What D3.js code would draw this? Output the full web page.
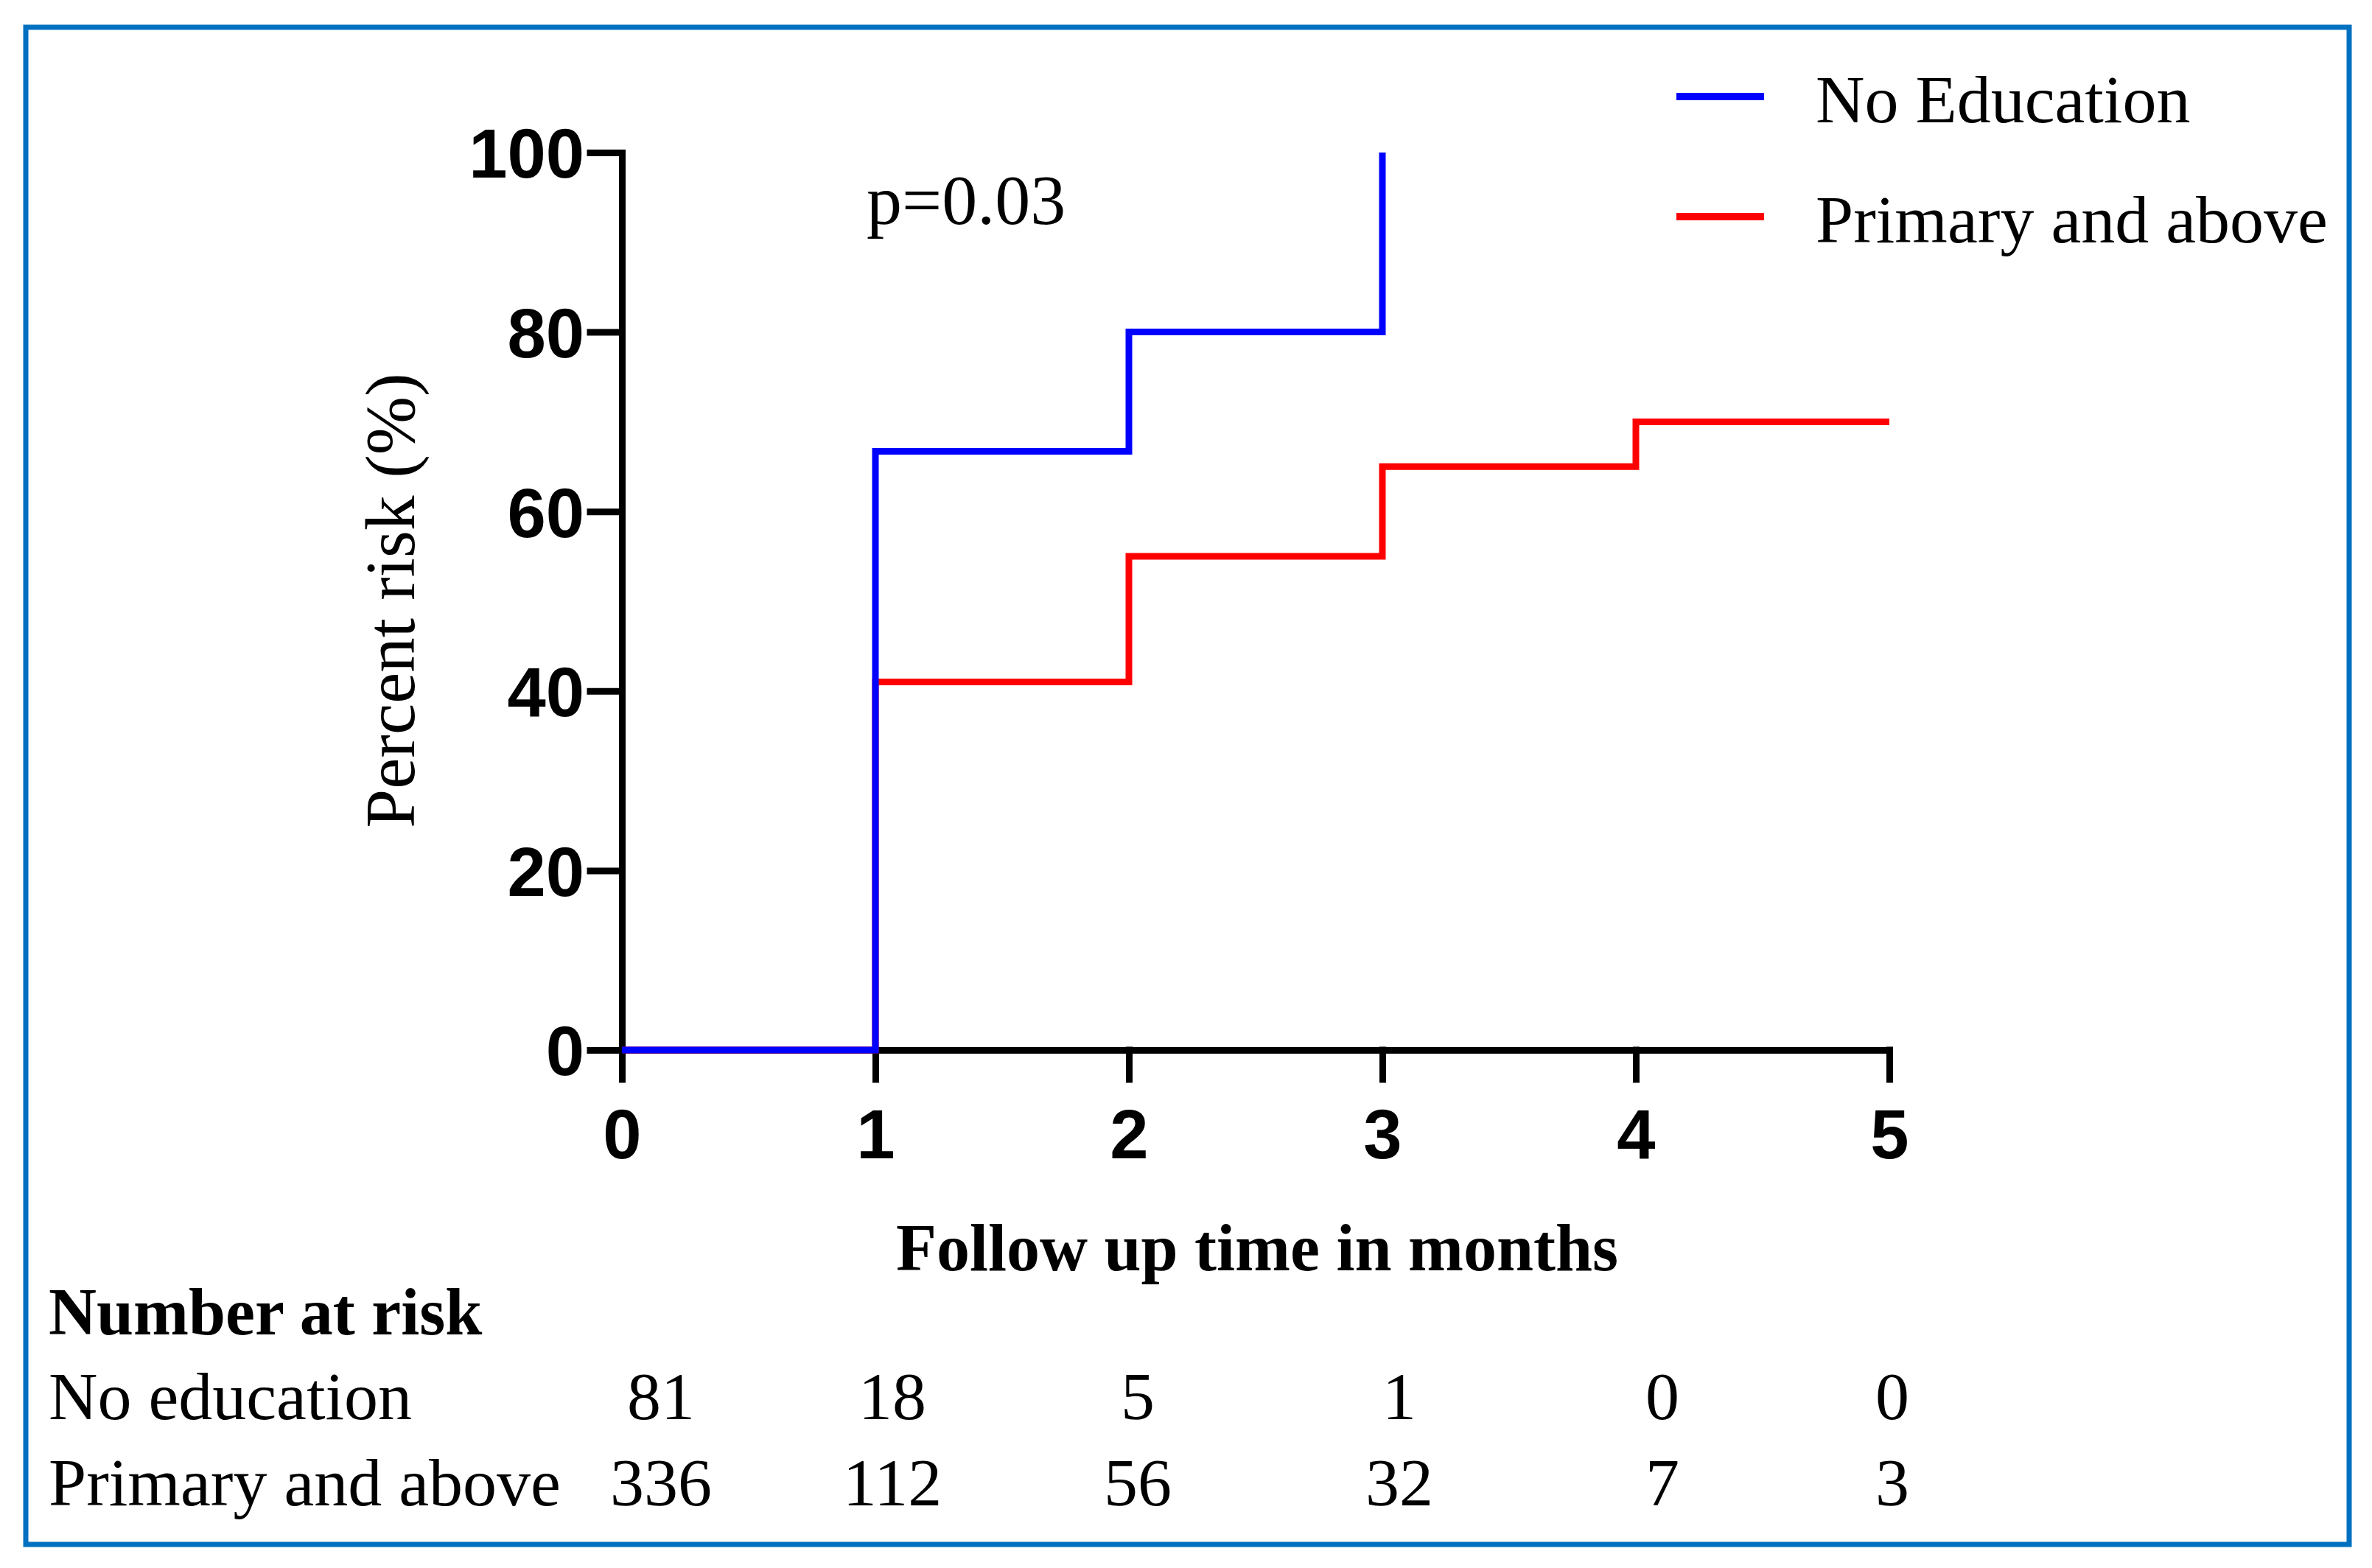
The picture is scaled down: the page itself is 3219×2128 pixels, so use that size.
<html>
    <head>
        <title>Percent risk by education</title>
        <style>
            body { margin: 0; background-color: white; }
            .serif { font-family: "Palatino Linotype", "Book Antiqua", Palatino, "Liberation Serif", serif; }
            .tick text { font-family: "Liberation Sans", Arial, sans-serif; font-weight: bold; }
        </style>
    </head>
    <body>
        <script src="https://d3js.org/d3.v7.min.js"></script>
        <script>
            const W = 3219, H = 2128;

            // data
            const months = [0, 1, 2, 3, 4, 5];
            const yTicks = [0, 20, 40, 60, 80, 100];
            const noEduTime = [0, 1, 2, 3];
            const noEduRisk = [0, 66.7, 80, 100];
            const primTime = [0, 1, 2, 3, 4, 5];
            const primRisk = [0, 41, 55, 65, 70, 70];
            const groups = ["No Education", "Primary and above"];
            const rowLabels = ["No education", "Primary and above"];
            const atRiskNoEdu = [81, 18, 5, 1, 0, 0];
            const atRiskPrim = [336, 112, 56, 32, 7, 3];
            const colors = ["#0000ff", "#ff0000"];

            const x = d3.scaleLinear().domain([0, 5]).range([844, 2564]);
            const y = d3.scaleLinear().domain([0, 100]).range([1425, 207]);
            // columns of the number-at-risk table are not evenly spaced in the figure
            const xTable = d3.scaleLinear().domain(months).range([897, 1211, 1544, 1899, 2256, 2568]);

            const svg = d3.select("body").append("svg")
                .attr("width", W).attr("height", H);

            svg.append("rect").attr("width", W).attr("height", H).attr("fill", "white");
            svg.append("rect")
                .attr("x", 35).attr("y", 37).attr("width", 3188 - 35).attr("height", 2096 - 37)
                .attr("fill", "none").attr("stroke", "#0070c0").attr("stroke-width", 7);

            // axes
            const yAxis = svg.append("g").attr("transform", "translate(" + x(0) + ",0)")
                .call(d3.axisLeft(y).tickValues(yTicks).tickSize(43).tickSizeOuter(0).tickPadding(8));
            const xAxis = svg.append("g").attr("transform", "translate(0," + y(0) + ")")
                .call(d3.axisBottom(x).tickValues(months).tickFormat(d3.format("d"))
                    .tickSize(40).tickSizeOuter(0).tickPadding(40));
            [xAxis, yAxis].forEach(a => {
                a.selectAll("path, line").attr("stroke", "black").attr("stroke-width", 9)
                    .attr("stroke-linecap", "square");
                a.selectAll("text").attr("fill", "black").style("font-size", "94px");
            });
            yAxis.selectAll("text").attr("dy", "0.36em");

            // step curves
            const line = d3.line().curve(d3.curveStepAfter)
                .x(d => x(d[0])).y(d => y(d[1]));
            const series = [
                d3.zip(primTime, primRisk),
                d3.zip(noEduTime, noEduRisk)
            ];
            svg.selectAll("path.curve").data(series).join("path")
                .attr("class", "curve")
                .attr("d", line)
                .attr("fill", "none")
                .attr("stroke", (d, i) => i === 0 ? colors[1] : colors[0])
                .attr("stroke-width", 9)
                .attr("stroke-linejoin", "miter");

            // axis titles
            svg.append("text").attr("class", "serif")
                .attr("transform", "translate(562,815) rotate(-90)")
                .attr("text-anchor", "middle")
                .style("font-size", "95px")
                .text("Percent risk (%)");
            svg.append("text").attr("class", "serif")
                .attr("x", 1706).attr("y", 1724)
                .attr("text-anchor", "middle")
                .style("font-size", "90px").style("font-weight", "bold")
                .text("Follow up time in months");

            svg.append("text").attr("class", "serif")
                .attr("x", 1176).attr("y", 304)
                .style("font-size", "96px")
                .text("p=0.03");

            // legend
            const leg = svg.selectAll("g.leg").data(groups).join("g")
                .attr("class", "leg")
                .attr("transform", (d, i) => "translate(2275," + (131 + i * 163) + ")");
            leg.append("line").attr("x1", 0).attr("x2", 119)
                .attr("stroke", (d, i) => colors[i]).attr("stroke-width", 10);
            leg.append("text").attr("class", "serif")
                .attr("x", 189).attr("y", 35)
                .style("font-size", "92px")
                .text(d => d);

            // number at risk table
            svg.append("text").attr("class", "serif")
                .attr("x", 66).attr("y", 1811)
                .style("font-size", "90px").style("font-weight", "bold")
                .text("Number at risk");
            const rows = [atRiskNoEdu, atRiskPrim];
            rows.forEach((vals, r) => {
                const yy = 1926 + r * 117;
                svg.append("text").attr("class", "serif")
                    .attr("x", 66).attr("y", yy)
                    .style("font-size", "92px")
                    .text(rowLabels[r]);
                svg.selectAll("text.n" + r).data(vals).join("text")
                    .attr("class", "serif n" + r)
                    .attr("x", (d, i) => xTable(months[i]))
                    .attr("y", yy)
                    .attr("text-anchor", "middle")
                    .style("font-size", "92px")
                    .text(d => d);
            });
        </script>
    </body>
</html>
